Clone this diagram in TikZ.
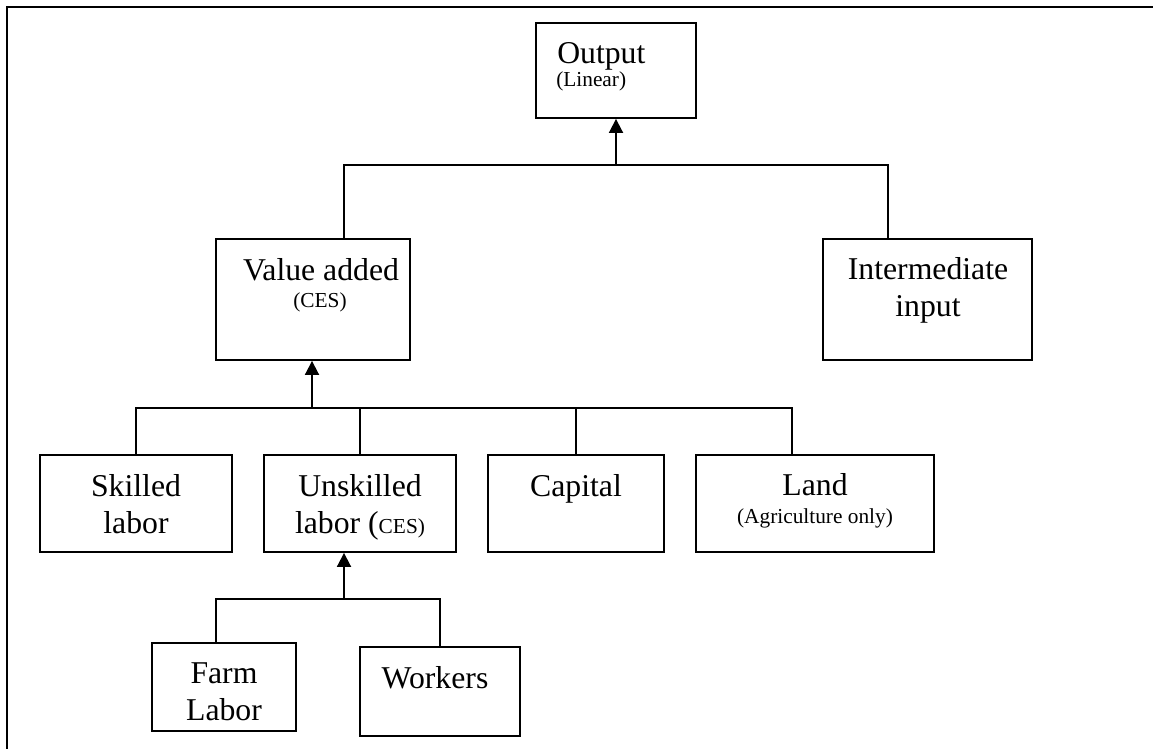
\documentclass[tikz,border=0pt]{standalone}
\usepackage{fontspec}
\setmainfont{Liberation Serif}
\usetikzlibrary{arrows.meta}
\newcommand{\bigtxt}{\fontsize{23.8}{28}\selectfont}
\newcommand{\smalltxt}{\fontsize{16}{19}\selectfont}
\begin{document}
\begin{tikzpicture}[x=0.75pt,y=-0.75pt,
  box/.style={draw, line width=1.4pt, inner sep=0pt, fill=none},
  conn/.style={line width=1.4pt},
  arr/.style={line width=1.4pt, -{Triangle[width=10.5pt,length=10.5pt]}},
  frame/.style={line width=1.8pt},
  big/.style={anchor=base, inner sep=0pt, font=\bigtxt},
  small/.style={anchor=base, inner sep=0pt, font=\smalltxt}]
\useasboundingbox (0,0) rectangle (1153,749);
\draw[frame] (7,749) -- (7,7) -- (1153,7);

% boxes
\node[box, minimum width=120pt, minimum height=71.25pt] (out) at (616,70.5) {};
\node[box, minimum width=145.5pt, minimum height=90.75pt] (va) at (313,299.5) {};
\node[box, minimum width=156.75pt, minimum height=90.75pt] (ii) at (927.5,299.5) {};
\node[box, minimum width=144pt, minimum height=72.75pt] (sk) at (136,503.5) {};
\node[box, minimum width=144pt, minimum height=72.75pt] (us) at (360,503.5) {};
\node[box, minimum width=132pt, minimum height=72.75pt] (cap) at (576,503.5) {};
\node[box, minimum width=178.5pt, minimum height=72.75pt] (land) at (815,503.5) {};
\node[box, minimum width=108pt, minimum height=66pt] (farm) at (224,687) {};
\node[box, minimum width=120pt, minimum height=66.75pt] (wk) at (440,691.5) {};

% texts
\node[big, anchor=base west] (tout) at (557,64) {Output};
\node[small, anchor=base west] (tlin) at (556,87) {(Linear)};
\node[big] (tva) at (321,280) {Value added};
\node[small] (tces1) at (320,307) {(CES)};
\node[big] (tii1) at (928,279) {Intermediate};
\node[big] (tii2) at (928,316) {input};
\node[big] (tsk1) at (136,496) {Skilled};
\node[big] (tsk2) at (136,533) {labor};
\node[big] (tus1) at (360,496) {Unskilled};
\node[big] (tus2) at (360,533) {labor ({\smalltxt CES)}};
\node[big] (tcap) at (576,496) {Capital};
\node[big] (tland) at (815,495) {Land};
\node[small] (tagr) at (815,523) {(Agriculture only)};
\node[big] (tfarm1) at (224,683) {Farm};
\node[big] (tfarm2) at (224,720) {Labor};
\node[big] (twk) at (435,688) {Workers};

% level 1
\coordinate (h1L) at (344,165);
\coordinate (h1R) at (888,165);
\draw[conn] (va.north -| h1L) -- (h1L) -- (h1R) -- (ii.north -| h1R);
\draw[arr] (out.south |- h1L) -- (out.south);

% level 2
\coordinate (h2L) at (136,408);
\coordinate (h2R) at (792,408);
\coordinate (a2) at (312,408);
\draw[conn] (sk.north) -- (h2L) -- (h2R) -- (land.north -| h2R);
\draw[conn] (us.north) -- (us.north |- h2L);
\draw[conn] (cap.north) -- (cap.north |- h2L);
\draw[arr] (a2) -- (va.south -| a2);

% level 3
\coordinate (h3L) at (216,599);
\coordinate (h3R) at (440,599);
\coordinate (a3) at (344,599);
\draw[conn] (farm.north -| h3L) -- (h3L) -- (h3R) -- (wk.north);
\draw[arr] (a3) -- (us.south -| a3);
\end{tikzpicture}
\end{document}
